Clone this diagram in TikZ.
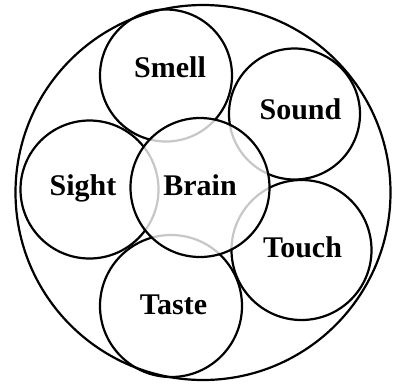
\documentclass[tikz,border=0pt]{standalone}
\usepackage{fontspec}
\setmainfont{Liberation Serif}
\tikzset{
  ring/.style={draw=black, line width=2.2pt},
  ghost/.style={draw=black!22, line width=2.2pt},
  lbl/.style={font=\bfseries\fontsize{30}{32}\selectfont, anchor=base, inner sep=0pt}
}
\begin{document}
\begin{tikzpicture}[x=1pt,y=-1pt]
\useasboundingbox (0,0) rectangle (393,384);
\draw[ring] (203,192.5) circle[radius=187.5];
\draw[ring] (166,75.5) circle[radius=66];
\draw[ring] (294.5,114) circle[radius=65.5];
\draw[ring] (89.5,189.5) circle[radius=69];
\draw[ring] (301.5,250) circle[radius=70];
\draw[ring] (171,306) circle[radius=71];
\begin{scope}
  \clip (200,187.5) circle[radius=69.5];
  \fill[white] (200,187.5) circle[radius=70];
  \draw[ghost] (166,75.5) circle[radius=66];
  \draw[ghost] (294.5,114) circle[radius=65.5];
  \draw[ghost] (89.5,189.5) circle[radius=69];
  \draw[ghost] (301.5,250) circle[radius=70];
  \draw[ghost] (171,306) circle[radius=71];
\end{scope}
\draw[ring] (200,187.5) circle[radius=69.5];
\node[lbl] (brain) at (200,195) {Brain};
\node[lbl] (smell) at (170,77.5) {Smell};
\node[lbl] (sound) at (300.5,119) {Sound};
\node[lbl] (sight) at (83,195) {Sight};
\node[lbl] (touch) at (302.5,257.5) {Touch};
\node[lbl] (taste) at (173.5,314) {Taste};
\end{tikzpicture}
\end{document}
